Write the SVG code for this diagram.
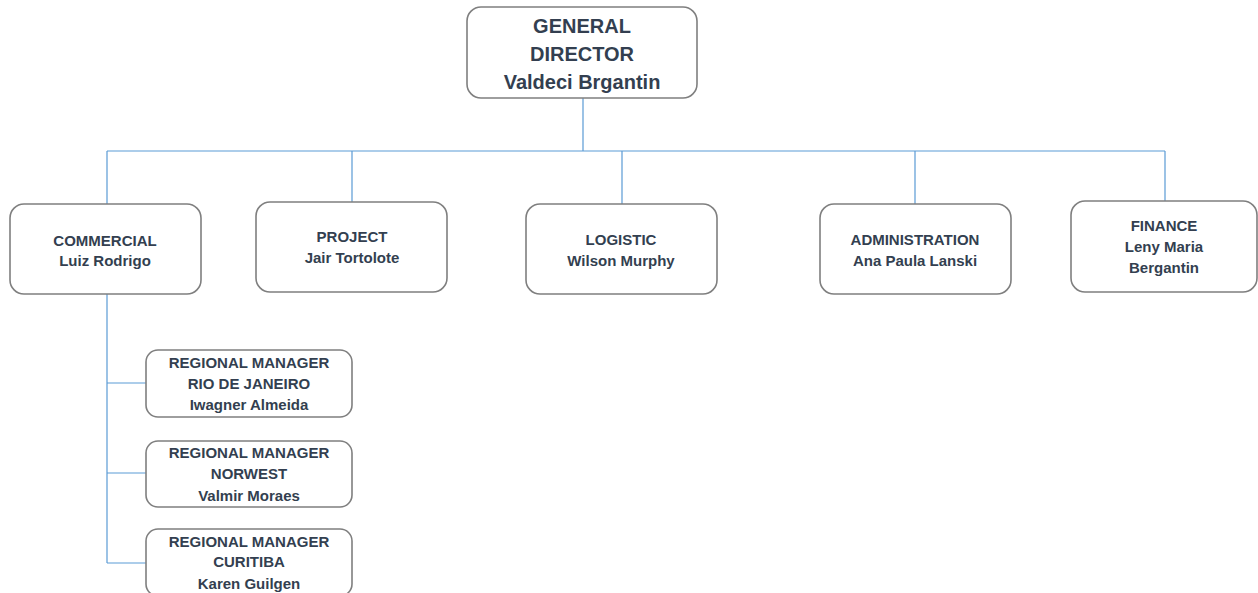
<svg xmlns="http://www.w3.org/2000/svg" width="1258" height="593" viewBox="0 0 1258 593">
<style>
.box{fill:#ffffff;stroke:#7f7f7f;stroke-width:1.6}
.t{font-family:"Liberation Sans",Arial,sans-serif;font-weight:bold;fill:#333f50;text-anchor:middle;font-size:15px}
.big{font-size:20px}
.c{fill:none;stroke:#5b9bd5;stroke-width:1.2}
</style>
<rect width="1258" height="593" fill="#ffffff"/>
<g id="connectors">
<path class="c" d="M583 98V151M107 151H1165M107 151V204M352 151V202M622 151V204M915 151V204M1165 151V201"/>
<path class="c" d="M107 294V563M107 383H146M107 473H146M107 563H146"/>
</g>
<g id="general-director">
<rect class="box" x="467" y="7" width="230" height="91" rx="14"/>
<text class="t big" x="582" y="33">GENERAL</text>
<text class="t big" x="582" y="61">DIRECTOR</text>
<text class="t big" x="582" y="89">Valdeci Brgantin</text>
</g>
<g id="commercial">
<rect class="box" x="10" y="204" width="191" height="90" rx="14"/>
<text class="t" x="105" y="246">COMMERCIAL</text>
<text class="t" x="105" y="266">Luiz Rodrigo</text>
</g>
<g id="project">
<rect class="box" x="256" y="202" width="191" height="90" rx="14"/>
<text class="t" x="352" y="242">PROJECT</text>
<text class="t" x="352" y="263">Jair Tortolote</text>
</g>
<g id="logistic">
<rect class="box" x="526" y="204" width="191" height="90" rx="14"/>
<text class="t" x="621" y="245">LOGISTIC</text>
<text class="t" x="621" y="266">Wilson Murphy</text>
</g>
<g id="administration">
<rect class="box" x="820" y="204" width="191" height="90" rx="14"/>
<text class="t" x="915" y="245">ADMINISTRATION</text>
<text class="t" x="915" y="266">Ana Paula Lanski</text>
</g>
<g id="finance">
<rect class="box" x="1071" y="201" width="186" height="91" rx="14"/>
<text class="t" x="1164" y="231">FINANCE</text>
<text class="t" x="1164" y="252">Leny Maria</text>
<text class="t" x="1164" y="273">Bergantin</text>
</g>
<g id="regional-rio">
<rect class="box" x="146" y="350" width="206" height="67" rx="12"/>
<text class="t" x="249" y="368">REGIONAL MANAGER</text>
<text class="t" x="249" y="389">RIO DE JANEIRO</text>
<text class="t" x="249" y="410">Iwagner Almeida</text>
</g>
<g id="regional-norwest">
<rect class="box" x="146" y="441" width="206" height="66" rx="12"/>
<text class="t" x="249" y="458">REGIONAL MANAGER</text>
<text class="t" x="249" y="479">NORWEST</text>
<text class="t" x="249" y="501">Valmir Moraes</text>
</g>
<g id="regional-curitiba">
<rect class="box" x="146" y="529" width="206" height="67" rx="12"/>
<text class="t" x="249" y="547">REGIONAL MANAGER</text>
<text class="t" x="249" y="567">CURITIBA</text>
<text class="t" x="249" y="589">Karen Guilgen</text>
</g>
</svg>
